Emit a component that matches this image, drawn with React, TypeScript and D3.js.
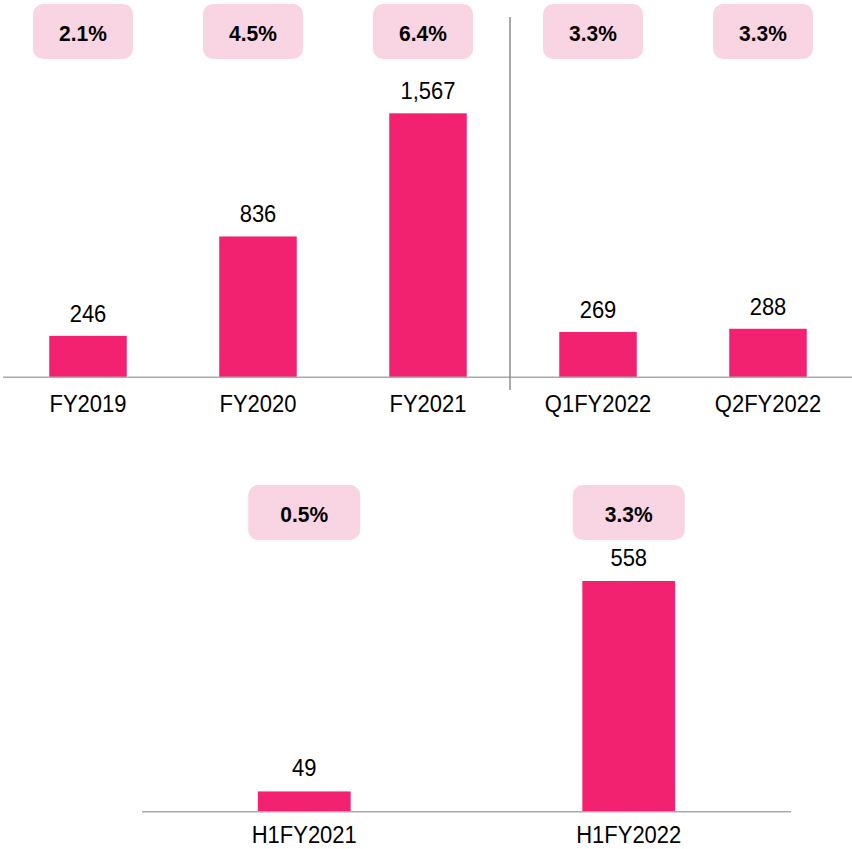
import React from 'react';
import * as d3 from 'd3';

// chart data
const topCategories = ['FY2019', 'FY2020', 'FY2021', 'Q1FY2022', 'Q2FY2022'];
const topValues = [246, 836, 1567, 269, 288];
const topPercents = ['2.1%', '4.5%', '6.4%', '3.3%', '3.3%'];

const bottomCategories = ['H1FY2021', 'H1FY2022'];
const bottomValues = [49, 558];
const bottomPercents = ['0.5%', '3.3%'];

const WIDTH = 852;
const HEIGHT = 849;
const BAR_COLOR = '#F32270';
const BOX_COLOR = '#F9D5E3';
const AXIS_COLOR = '#AAAAAA';
const FONT = 'Liberation Sans, Arial, sans-serif';

// text in the source is a little taller than Arial, so stretch it a bit
const Label: React.FC<{ x: number; y: number; size: number; bold?: boolean; children: React.ReactNode }> = ({
  x, y, size, bold, children,
}) => (
  <text
    transform={`translate(${x},${y}) scale(1,1.08)`}
    textAnchor="middle"
    fontSize={size}
    fontWeight={bold ? 'bold' : 'normal'}
    fill="#000"
  >
    {children}
  </text>
);

interface PanelProps {
  categories: string[];
  values: number[];
  percents: string[];
  xRange: [number, number];
  paddingInner: number;
  baseline: number;
  maxTop: number;
  axisX: [number, number];
  boxY: number;
  boxW: number;
  boxShift: number;
  labelGap: number;
  catY: number;
}

const Panel: React.FC<PanelProps> = ({
  categories, values, percents, xRange, paddingInner, baseline, maxTop,
  axisX, boxY, boxW, boxShift, labelGap, catY,
}) => {
  const x = d3.scaleBand<string>()
    .domain(categories)
    .range(xRange)
    .paddingInner(paddingInner)
    .paddingOuter(paddingInner / 2);

  const y = d3.scaleLinear()
    .domain([0, d3.max(values) as number])
    .range([baseline, maxTop]);

  const boxH = 55;

  return (
    <g>
      {categories.map((c, i) => {
        const cx = (x(c) as number) + x.bandwidth() / 2;
        const bx = cx + boxShift;
        return (
          <g key={c}>
            <rect
              x={bx - boxW / 2}
              y={boxY}
              width={boxW}
              height={boxH}
              rx={10}
              fill={BOX_COLOR}
            />
            <Label x={bx} y={boxY + boxH / 2 + 9} size={21} bold>
              {percents[i]}
            </Label>
            <rect
              x={x(c)}
              y={y(values[i])}
              width={x.bandwidth()}
              height={baseline - y(values[i])}
              fill={BAR_COLOR}
            />
            <Label x={cx} y={y(values[i]) - labelGap} size={22}>
              {d3.format(',')(values[i])}
            </Label>
            <Label x={cx} y={catY} size={22}>
              {c}
            </Label>
          </g>
        );
      })}
      <line
        x1={axisX[0]}
        x2={axisX[1]}
        y1={baseline}
        y2={baseline}
        stroke={AXIS_COLOR}
        strokeWidth={1.5}
      />
    </g>
  );
};

const App: React.FC = () => {
  return (
    <div style={{ position: 'absolute', left: 0, top: 0 }}>
      <svg
        width={WIDTH}
        height={HEIGHT}
        style={{ display: 'block', background: '#fff', fontFamily: FONT }}
      >
        <Panel
          categories={topCategories}
          values={topValues}
          percents={topPercents}
          xRange={[3, 853]}
          paddingInner={0.544}
          baseline={377.3}
          maxTop={113.3}
          axisX={[3, 852]}
          boxY={4}
          boxW={100}
          boxShift={-5}
          labelGap={14}
          catY={412}
        />
        {/* divider between annual and quarterly figures */}
        <line x1={510} x2={510} y1={17} y2={390} stroke="#8C8C8C" strokeWidth={1.5} />
        <Panel
          categories={bottomCategories}
          values={bottomValues}
          percents={bottomPercents}
          xRange={[142, 791]}
          paddingInner={0.714}
          baseline={811.7}
          maxTop={581}
          axisX={[142, 791]}
          boxY={485}
          boxW={112}
          boxShift={0}
          labelGap={15}
          catY={843}
        />
      </svg>
    </div>
  );
};

export default App;
